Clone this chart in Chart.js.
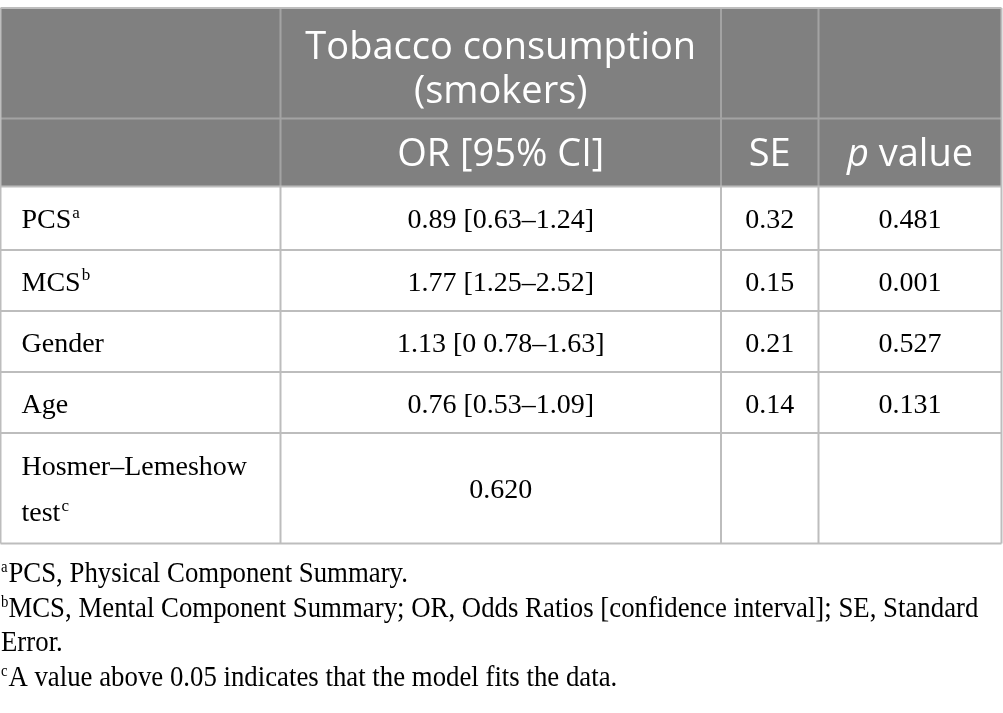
<!DOCTYPE html>
<html>
<head>
<meta charset="utf-8">
<script src="https://cdn.jsdelivr.net/npm/chart.js@4"></script>
<style>
  html, body { margin: 0; padding: 0; background: #ffffff; }
  #wrap { width: 1003px; height: 713px; }
</style>
</head>
<body>
<div id="wrap"><canvas id="tableChart" width="1003" height="713"></canvas></div>
<script>
// ====================== TABLE DATA ======================
const headerTitle = ["Tobacco consumption", "(smokers)"];
const columnHeads = ["", "OR [95% CI]", "SE", "p value"];
const rowLabels = ["PCS", "MCS", "Gender", "Age", "Hosmer–Lemeshow test"];
const rowMarks = ["a", "b", "", "", "c"];
const orValues = ["0.89 [0.63–1.24]", "1.77 [1.25–2.52]", "1.13 [0 0.78–1.63]", "0.76 [0.53–1.09]", "0.620"];
const seValues = ["0.32", "0.15", "0.21", "0.14", ""];
const pValues = ["0.481", "0.001", "0.527", "0.131", ""];
const footMarks = ["a", "b", "", "c"];
const footLines = [
    "PCS, Physical Component Summary.",
    "MCS, Mental Component Summary; OR, Odds Ratios [confidence interval]; SE, Standard",
    "Error.",
    "A value above 0.05 indicates that the model fits the data."
];

// ====================== LAYOUT ======================
const colEdges = [0.5, 280.5, 721, 818.5, 1001.5];
const rowEdges = [8, 118.5, 186.5, 250, 311, 372, 433, 543.5];
const footBase = [582, 617, 651, 686];

const HEAD_BG = "#808080";
const GRID = "#bdbdbd";
const HEAD_GRID = "#a3a3a3";
const SANS = "'Open Sans', sans-serif";
const SERIF = "'Liberation Serif', serif";
const HEAD_SIZE = 38;

// draw text with a small superscript mark after it
function textWithMark(ctx, text, mark, x, y, size, align) {
    ctx.font = `${size}px ${SERIF}`;
    const w = ctx.measureText(text).width;
    ctx.font = `${Math.round(size * 0.6)}px ${SERIF}`;
    const mw = mark ? ctx.measureText(mark).width : 0;
    let left = x;
    if (align === "center") left = x - (w + mw) / 2;
    ctx.textAlign = "left";
    ctx.font = `${size}px ${SERIF}`;
    ctx.fillText(text, left, y);
    if (mark) {
        ctx.font = `${Math.round(size * 0.6)}px ${SERIF}`;
        ctx.fillText(mark, left + w + 1, y - size * 0.36);
    }
}

// ====================== TABLE PLUGIN ======================
const tablePlugin = {
    id: "tablePlugin",
    beforeDatasetsDraw(chart) {
        const { ctx, scales: { x, y } } = chart;
        const X = v => x.getPixelForValue(v);
        const Y = v => y.getPixelForValue(v);
        ctx.save();

        // header background
        ctx.fillStyle = HEAD_BG;
        ctx.fillRect(X(colEdges[0]), Y(rowEdges[0]), X(colEdges[4]) - X(colEdges[0]), Y(rowEdges[2]) - Y(rowEdges[0]));

        // grid lines
        ctx.lineWidth = 2;
        ctx.strokeStyle = HEAD_GRID;
        ctx.beginPath();
        for (let i = 1; i < colEdges.length - 1; i++) {
            ctx.moveTo(X(colEdges[i]), Y(rowEdges[0]));
            ctx.lineTo(X(colEdges[i]), Y(rowEdges[2]));
        }
        ctx.moveTo(X(colEdges[0]), Y(rowEdges[1]));
        ctx.lineTo(X(colEdges[4]), Y(rowEdges[1]));
        ctx.stroke();

        ctx.strokeStyle = GRID;
        ctx.beginPath();
        for (let i = 0; i < colEdges.length; i++) {
            const top = (i === 0 || i === colEdges.length - 1) ? rowEdges[0] : rowEdges[2];
            ctx.moveTo(X(colEdges[i]), Y(top));
            ctx.lineTo(X(colEdges[i]), Y(rowEdges[rowEdges.length - 1]));
        }
        [0, 2, 3, 4, 5, 6, 7].forEach(r => {
            ctx.moveTo(X(colEdges[0]), Y(rowEdges[r]));
            ctx.lineTo(X(colEdges[4]), Y(rowEdges[r]));
        });
        ctx.stroke();

        // header text
        const mid = c => (X(colEdges[c]) + X(colEdges[c + 1])) / 2;
        ctx.fillStyle = "#ffffff";
        ctx.textBaseline = "alphabetic";
        ctx.textAlign = "center";
        ctx.font = `${HEAD_SIZE}px ${SANS}`;
        ctx.fillText(headerTitle[0], mid(1), Y(rowEdges[0]) + 51);
        ctx.fillText(headerTitle[1], mid(1), Y(rowEdges[0]) + 95);
        const headBase = (Y(rowEdges[1]) + Y(rowEdges[2])) / 2 + 13;
        ctx.fillText(columnHeads[1], mid(1), headBase);
        ctx.fillText(columnHeads[2], mid(2), headBase);
        // "p value" with italic p
        const pv = columnHeads[3].split(" ");
        ctx.font = `italic ${HEAD_SIZE}px ${SANS}`;
        const wp = ctx.measureText(pv[0] + " ").width;
        ctx.font = `${HEAD_SIZE}px ${SANS}`;
        const wv = ctx.measureText(pv.slice(1).join(" ")).width;
        const start = mid(3) - (wp + wv) / 2;
        ctx.textAlign = "left";
        ctx.font = `italic ${HEAD_SIZE}px ${SANS}`;
        ctx.fillText(pv[0] + " ", start, headBase);
        ctx.font = `${HEAD_SIZE}px ${SANS}`;
        ctx.fillText(pv.slice(1).join(" "), start + wp, headBase);

        // body
        ctx.fillStyle = "#000000";
        rowLabels.forEach((label, i) => {
            const top = Y(rowEdges[i + 2]);
            const bot = Y(rowEdges[i + 3]);
            const base = (top + bot) / 2 + 10;
            if (i === rowLabels.length - 1) {
                const parts = label.split(" ");
                textWithMark(ctx, parts[0], "", X(colEdges[0]) + 21, base - 23, 28, "left");
                textWithMark(ctx, parts[1], rowMarks[i], X(colEdges[0]) + 21, base + 23, 28, "left");
            } else {
                textWithMark(ctx, label, rowMarks[i], X(colEdges[0]) + 21, base, 28, "left");
            }
            textWithMark(ctx, orValues[i], "", mid(1), base, 28, "center");
            textWithMark(ctx, seValues[i], "", mid(2), base, 28, "center");
            textWithMark(ctx, pValues[i], "", mid(3), base, 28, "center");
        });

        // footnotes, condensed serif
        const FOOT = 29;
        ctx.font = `${FOOT}px ${SERIF}`;
        const squeeze = 970 / ctx.measureText(footLines[1]).width;
        footLines.forEach((line, i) => {
            ctx.save();
            ctx.translate(X(0) + 1, Y(footBase[i]));
            ctx.scale(squeeze, 1);
            textWithMark(ctx, line, "", footMarks[i] ? 8 : 0, 0, FOOT, "left");
            if (footMarks[i]) {
                ctx.font = `16px ${SERIF}`;
                ctx.fillText(footMarks[i], 0, -10);
            }
            ctx.restore();
        });

        ctx.restore();
    }
};

// ====================== CHART ======================
new Chart(document.getElementById("tableChart").getContext("2d"), {
    type: "scatter",
    data: { datasets: [{ data: [], pointRadius: 0 }] },
    options: {
        responsive: false,
        animation: false,
        layout: { padding: 0 },
        plugins: { legend: { display: false }, tooltip: { enabled: false } },
        scales: {
            x: { type: "linear", min: 0, max: 1003, display: false },
            y: { type: "linear", min: 0, max: 713, reverse: true, display: false }
        }
    },
    plugins: [tablePlugin]
});
</script>
</body>
</html>
